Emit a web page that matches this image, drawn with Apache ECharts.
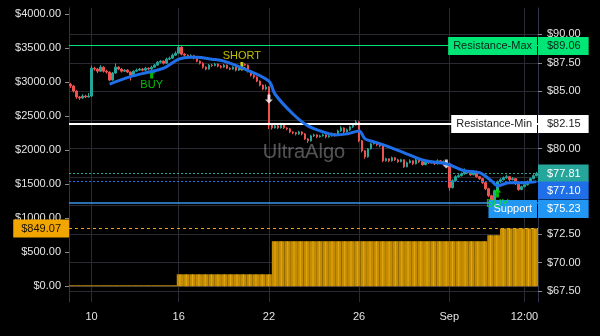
<!DOCTYPE html>
<html>
<head>
<meta charset="utf-8">
<script src="https://cdn.jsdelivr.net/npm/echarts@6/dist/echarts.min.js"></script>
<style>
  html, body { margin: 0; padding: 0; background: #000; }
  #chart { width: 600px; height: 336px; }
</style>
</head>
<body>
<div id="chart"></div>
<script>
// price bars: [open, close, low, high]
const candles = [
  [85.62,85.47,85.30,85.75],[85.47,85.03,84.90,85.55],[85.03,84.51,84.35,85.10],[84.51,84.42,84.25,84.60],
  [84.42,84.59,84.35,84.75],[84.59,84.51,84.40,84.70],[84.51,84.59,84.45,84.85],[84.59,87.03,84.50,87.25],
  [87.03,86.95,86.80,87.15],[86.95,86.77,86.60,87.05],[86.77,87.12,86.70,87.30],[87.12,86.77,86.65,87.20],
  [86.77,86.69,86.55,86.90],[86.69,85.99,85.90,86.75],[85.99,86.60,85.95,86.70],[86.60,87.12,86.55,87.45],
  [87.12,86.95,86.85,87.20],[86.95,86.77,86.65,87.05],[86.77,86.86,86.70,86.95],[86.86,86.69,86.60,86.95],
  [86.69,86.42,85.95,86.75],[86.42,86.77,86.35,86.85],[86.77,86.86,86.70,87.00],[86.86,86.95,86.80,87.05],
  [86.95,86.86,86.75,87.05],[86.86,87.03,86.80,87.15],[87.03,86.95,86.85,87.10],[86.95,87.12,86.90,87.25],
  [87.12,87.30,87.05,87.40],[87.30,87.56,87.25,87.65],[87.56,87.65,87.45,87.75],[87.65,87.47,87.35,87.70],
  [87.47,87.82,87.40,87.95],[87.82,87.91,87.75,88.05],[87.91,88.17,87.85,88.30],[88.17,88.34,88.10,88.50],
  [88.34,88.87,88.30,89.06],[88.87,88.26,88.15,88.95],[88.26,88.17,88.05,88.35],[88.17,88.08,87.95,88.25],
  [88.08,88.12,87.98,88.25],[88.12,87.91,87.80,88.20],[87.91,87.65,87.55,88.00],[87.65,87.47,87.35,87.70],
  [87.47,87.12,87.00,87.55],[87.12,86.95,86.85,87.20],[86.95,87.30,86.90,87.40],[87.30,87.26,87.15,87.40],
  [87.26,87.38,87.20,87.50],[87.38,87.21,87.10,87.45],[87.21,87.12,87.00,87.30],[87.12,87.30,87.05,87.40],
  [87.30,87.03,86.95,87.35],[87.03,86.95,86.85,87.10],[86.95,87.12,86.90,87.20],[87.12,86.86,86.75,87.20],
  [86.86,87.12,86.80,87.25],[87.12,87.38,87.05,87.55],[87.38,87.30,87.20,87.45],[87.30,86.77,86.65,87.35],
  [86.77,86.42,86.30,86.85],[86.42,86.25,86.10,86.50],[86.25,85.90,85.80,86.30],[85.90,85.55,85.45,85.95],
  [85.55,85.20,85.10,85.60],[85.20,85.38,85.10,85.60],[85.38,82.06,81.70,85.45],[82.06,81.80,81.65,82.15],
  [81.80,81.98,81.75,82.10],[81.98,81.80,81.70,82.05],[81.80,82.15,81.75,82.25],[82.15,81.80,81.70,82.20],
  [81.80,81.72,81.60,81.85],[81.72,81.45,81.35,81.80],[81.45,81.37,81.25,81.50],[81.37,81.28,81.15,81.45],
  [81.28,81.45,81.20,81.55],[81.45,81.28,81.15,81.50],[81.28,80.84,80.75,81.35],[80.84,80.67,80.50,80.90],
  [80.67,81.10,80.60,81.20],[81.10,81.19,81.00,81.30],[81.19,81.02,80.90,81.25],[81.02,81.10,80.95,81.20],
  [81.10,81.19,81.05,81.30],[81.19,81.02,80.90,81.25],[81.02,81.10,80.95,81.20],[81.10,81.28,81.05,81.40],
  [81.28,81.19,81.05,81.35],[81.19,81.54,81.10,81.65],[81.54,81.80,81.45,81.95],[81.80,81.45,81.35,81.85],
  [81.45,81.63,81.40,81.75],[81.63,81.89,81.55,82.00],[81.89,82.06,81.80,82.20],[82.06,82.33,82.00,82.50],
  [82.33,80.67,80.55,82.40],[80.67,79.80,79.65,80.75],[79.80,79.27,79.10,79.85],[79.27,79.97,79.20,80.05],
  [79.97,80.41,79.90,80.50],[80.41,80.49,80.35,80.60],[80.49,80.32,80.20,80.55],[80.32,80.23,80.10,80.40],
  [80.23,78.92,78.80,80.30],[78.92,79.10,78.85,79.20],[79.10,78.92,78.80,79.15],[78.92,79.19,78.85,79.30],
  [79.19,79.01,78.90,79.25],[79.01,78.84,78.75,79.10],[78.84,79.01,78.80,79.10],[79.01,78.40,78.30,79.05],
  [78.40,78.75,78.35,78.85],[78.75,78.92,78.70,79.05],[78.92,78.66,78.55,78.95],[78.66,79.01,78.60,79.15],
  [79.01,78.84,78.75,79.05],[78.84,78.58,78.50,78.90],[78.58,78.92,78.55,79.00],[78.92,78.75,78.65,79.00],
  [78.75,78.84,78.70,78.95],[78.84,78.66,78.55,78.90],[78.66,78.92,78.60,79.05],[78.92,78.75,78.65,79.00],
  [78.75,78.84,78.70,78.95],[78.84,78.66,78.55,78.90],[78.66,76.57,76.31,78.75],[76.57,77.18,76.50,77.30],
  [77.18,77.53,77.10,77.65],[77.53,77.62,77.45,77.75],[77.62,77.79,77.55,77.90],[77.79,78.05,77.70,78.25],
  [78.05,77.88,77.80,78.10],[77.88,77.70,77.60,77.95],[77.70,77.97,77.65,78.10],[77.97,77.53,77.45,78.05],
  [77.53,77.36,77.25,77.60],[77.36,77.01,76.90,77.40],[77.01,76.48,76.35,77.05],[76.48,75.87,75.75,76.55],
  [75.87,75.17,75.00,75.95],[75.17,76.31,75.10,76.40],[76.31,77.09,76.25,77.20],[77.09,77.27,77.00,77.40],
  [77.27,77.44,77.20,77.55],[77.44,77.53,77.35,77.70],[77.53,77.27,77.15,77.60],[77.27,77.36,77.20,77.50],
  [77.36,76.92,76.80,77.40],[76.92,76.40,76.30,76.95],[76.40,76.66,76.35,76.75],[76.66,76.83,76.60,76.95],
  [76.83,77.09,76.75,77.20],[77.09,77.36,77.00,77.45],[77.36,77.62,77.30,77.75],[77.62,77.81,77.55,77.95]
];

// moving average, read at a few bar indices: [bar index, value]
const maLine = [
  [13,85.64],[20,86.29],[26,86.69],[31,87.03],[36,87.82],[40,87.99],[42,87.99],[47,87.82],
  [51,87.65],[58,86.95],[66,85.90],[68,84.77],[74,83.02],[79,81.98],[85,81.37],[88,81.19],
  [92,81.28],[96,81.54],[98,80.84],[101,80.58],[105,80.23],[111,79.62],[118,78.92],[125,78.66],
  [131,78.05],[136,77.88],[140,77.18],[142,76.74],[146,77.01],[151,77.01],[155,77.10]
];

// equity histogram (left axis), coarser buckets
const equity = [
  0,0,0,0,0,0,0,0,0,0,0,0,0,0,0,0,0,
  176,176,176,176,176,176,176,176,176,176,176,176,176,176,176,
  662,662,662,662,662,662,662,662,662,662,662,662,662,662,662,662,662,
  662,662,662,662,662,662,662,662,662,662,662,662,662,662,662,662,662,
  750,750,
  849.07,849.07,849.07,849.07,849.07,849.07
];

// signals: [bar index, price]
const buySignals = [[27, 86.52], [142, 76.10]];
const shortSignals = [[57, 87.18]];
const exitSignals = [[66, 84.33], [125, 78.64]];

const xTickIdx = [7, 36, 66, 96, 126, 151];
const xTickText = ['10', '16', '22', '26', 'Sep', '12:00'];
const priceTicks = [67.5, 70, 72.5, 75, 77.5, 80, 82.5, 85, 87.5, 90];
const equityTicks = [0, 500, 1000, 1500, 2000, 2500, 3000, 3500, 4000];

const resistanceMax = 89.06;
const resistanceMin = 82.15;
const supportLevel = 75.23;
const lastPrice = 77.81;
const lastMa = 77.10;
const lastEquity = 849.07;

const FONT = '"Liberation Sans", Arial, sans-serif';
const GRID = '#2a2a33';
const AXIS = '#2f3148';
const TEXT = '#e4e4e4';
const ARROW_UP = 'path://M4,0 L8,4 L5.5,4 L5.5,9 L2.5,9 L2.5,4 L0,4 Z';
const ARROW_DOWN = 'path://M2.5,0 L5.5,0 L5.5,5 L8,5 L4,9 L0,5 L2.5,5 Z';

const isTick = (i) => xTickIdx.indexOf(i) >= 0;
const money = (v) => '$' + v.toFixed(2);

const chart = echarts.init(document.getElementById('chart'));

const option = {
  backgroundColor: '#000000',
  animation: false,
  grid: { left: 69, right: 62, top: 8, bottom: 34 },
  xAxis: [
    {
      type: 'category',
      data: candles.map((_, i) => i),
      boundaryGap: true,
      axisLine: { lineStyle: { color: AXIS } },
      axisTick: { show: true, length: 4, alignWithLabel: true, interval: isTick, lineStyle: { color: GRID } },
      axisLabel: {
        interval: isTick, color: TEXT, fontFamily: FONT, fontSize: 11, margin: 9,
        formatter: (v, i) => xTickText[xTickIdx.indexOf(i)] || ''
      },
      splitLine: { show: true, interval: isTick, alignWithLabel: true, lineStyle: { color: GRID } }
    },
    { type: 'category', data: equity.map((_, j) => j), show: false, boundaryGap: true },
    { type: 'category', data: equity.map((_, j) => j), show: false, boundaryGap: true }
  ],
  yAxis: [
    {
      type: 'value', position: 'left', min: -231, max: 4088,
      axisLine: { show: true, lineStyle: { color: AXIS } },
      axisTick: { show: true, length: 4, customValues: equityTicks, lineStyle: { color: '#8a8a8a' } },
      axisLabel: { customValues: equityTicks, formatter: money, color: TEXT, fontFamily: FONT, fontSize: 11, margin: 8 },
      splitLine: { show: false }
    },
    {
      type: 'value', position: 'right', min: 66.56, max: 92.30,
      axisLine: { show: true, lineStyle: { color: AXIS } },
      axisTick: { show: true, length: 4, customValues: priceTicks, lineStyle: { color: '#8a8a8a' } },
      axisLabel: { customValues: priceTicks, formatter: money, color: TEXT, fontFamily: FONT, fontSize: 11, margin: 9 },
      splitLine: { show: true, lineStyle: { color: GRID } }
    }
  ],
  series: [
    {
      name: 'equity', type: 'bar', xAxisIndex: 1, yAxisIndex: 0, data: equity,
      barCategoryGap: '0%', barMinHeight: 1, z: 1, silent: true,
      itemStyle: { color: '#c38c00' },
      markLine: {
        silent: true, symbol: ['none', 'none'], label: { show: false },
        data: [{ yAxis: lastEquity, lineStyle: { color: '#e8a317', width: 1, type: [3, 3] } }]
      }
    },
    {
      name: 'equity-stripes', type: 'bar', xAxisIndex: 2, yAxisIndex: 0, data: equity,
      barWidth: 1, z: 1, silent: true,
      itemStyle: { color: '#e6a814' }
    },
    {
      name: 'price', type: 'candlestick', xAxisIndex: 0, yAxisIndex: 1, data: candles,
      barWidth: 2, z: 2,
      itemStyle: { color: '#26a69a', color0: '#ef5350', borderColor: '#26a69a', borderColor0: '#ef5350', borderWidth: 1 },
      markLine: {
        silent: true, symbol: ['none', 'none'], label: { show: false },
        data: [
          { yAxis: resistanceMax, lineStyle: { color: '#00e676', width: 1, type: 'solid' } },
          { yAxis: resistanceMin, lineStyle: { color: '#ffffff', width: 2, type: 'solid' } },
          { yAxis: supportLevel, lineStyle: { color: '#3d95e8', width: 1.5, type: 'solid' } },
          { yAxis: lastPrice, lineStyle: { color: '#26a69a', width: 1, type: [2, 2] } }
        ]
      }
    },
    {
      name: 'buy', type: 'scatter', xAxisIndex: 0, yAxisIndex: 1, data: buySignals, z: 11,
      symbol: ARROW_UP, symbolSize: [8, 9], itemStyle: { color: '#00e600' },
      label: { show: true, position: 'bottom', distance: 1, formatter: 'BUY', color: '#00ee00', fontFamily: FONT, fontSize: 11 }
    },
    {
      name: 'short', type: 'scatter', xAxisIndex: 0, yAxisIndex: 1, data: shortSignals, z: 11,
      symbol: ARROW_DOWN, symbolSize: [8, 9], itemStyle: { color: '#e8e800' },
      label: { show: true, position: 'top', distance: 1, formatter: 'SHORT', color: '#eeee00', fontFamily: FONT, fontSize: 11 }
    },
    {
      name: 'exit', type: 'scatter', xAxisIndex: 0, yAxisIndex: 1, data: exitSignals, z: 11,
      symbol: ARROW_DOWN, symbolSize: [8, 9], itemStyle: { color: '#ffffff' }
    },
    {
      name: 'ma', type: 'line', xAxisIndex: 0, yAxisIndex: 1, data: maLine, z: 12,
      smooth: 0.35, showSymbol: false, silent: true,
      lineStyle: { color: '#1f6fe8', width: 3 },
      markLine: {
        silent: true, symbol: ['none', 'none'], label: { show: false }, z: 5,
        data: [{ yAxis: lastMa, lineStyle: { color: '#1f6fe8', width: 1, type: [2, 2] } }]
      }
    }
  ]
};

chart.setOption(option);

// price / name tags next to the axes, placed with the chart's own scales
const plotLeft = 69, plotRight = 538;
const yRight = (v) => chart.convertToPixel({ xAxisIndex: 0, yAxisIndex: 1 }, [0, v])[1];
const yLeft = (v) => chart.convertToPixel({ xAxisIndex: 0, yAxisIndex: 0 }, [0, v])[1];

function tag(x, y, text, align, bg, fg, padding) {
  return {
    type: 'text', x: x, y: y, z: 10, silent: true,
    style: {
      text: text, align: align, verticalAlign: 'middle', fill: fg, backgroundColor: bg,
      padding: padding, fontFamily: FONT, fontSize: 11, lineHeight: 13
    }
  };
}

const tags = [
  { v: resistanceMax, name: 'Resistance-Max', bg: '#00e676', fg: '#0c2416', dy: 1 },
  { v: resistanceMin, name: 'Resistance-Min', bg: '#ffffff', fg: '#1c1c1c', dy: 0 },
  { v: lastPrice, name: null, bg: '#26a69a', fg: '#ffffff', dy: 0 },
  { v: lastMa, name: null, bg: '#1f6fe8', fg: '#ffffff', dy: 9 },
  { v: supportLevel, name: 'Support', bg: '#2196f3', fg: '#ffffff', dy: 6 }
];

const elements = [
  {
    type: 'text', x: 304, y: 152, z: 0, silent: true,
    style: { text: 'UltraAlgo', align: 'center', verticalAlign: 'middle', fill: 'rgba(255,255,255,0.32)', fontFamily: FONT, fontSize: 20 }
  }
];
tags.forEach((t) => {
  const y = yRight(t.v) + t.dy;
  elements.push(tag(plotRight, y, money(t.v), 'left', t.bg, t.fg, [3, 8, 2, 9]));
  if (t.name) elements.push(tag(plotRight - 1, y, t.name, 'right', t.bg, t.fg, [3, 5, 2, 5]));
});
elements.push(tag(plotLeft, yLeft(lastEquity), money(lastEquity), 'right', '#f0a500', '#1a1200', [3, 8, 2, 8]));

chart.setOption({ graphic: { elements: elements } });
</script>
</body>
</html>
